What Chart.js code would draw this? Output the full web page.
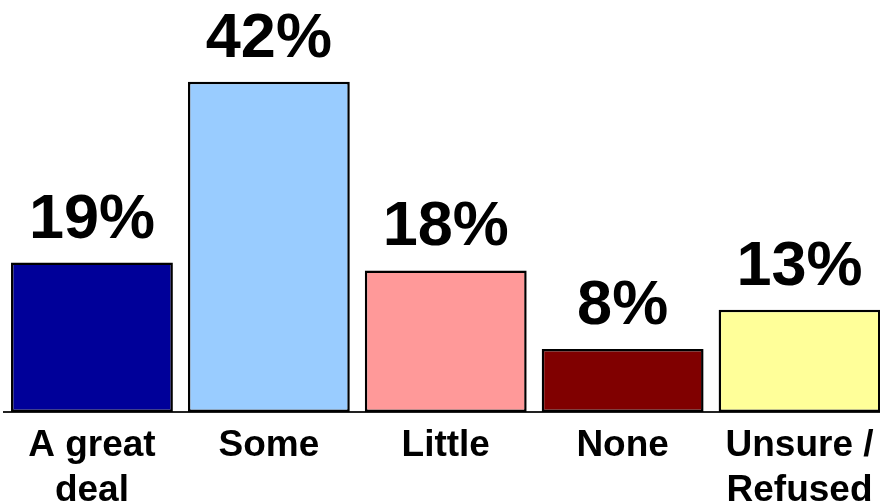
<!DOCTYPE html>
<html>
<head>
<meta charset="utf-8">
<script src="https://cdn.jsdelivr.net/npm/chart.js@4"></script>
<style>
    html, body { margin: 0; padding: 0; background: #fff; overflow: hidden; }
    #wrap { position: relative; width: 888px; height: 504px; }
</style>
</head>
<body>
<div id="wrap"><canvas id="chart"></canvas></div>
<script>
// chart data
const categories = [['A great', 'deal'], 'Some', 'Little', 'None', ['Unsure /', 'Refused']];
const percents = [19, 42, 18, 8, 13];
const barColors = ['#000099', '#99CCFF', '#FF9999', '#800000', '#FFFF99'];

const fontFamily = '"Liberation Sans", Arial, sans-serif';

// draws the "NN%" text above every bar
const valueLabels = {
    id: 'valueLabels',
    afterDatasetsDraw(chart) {
        const ctx = chart.ctx;
        const meta = chart.getDatasetMeta(0);
        ctx.save();
        ctx.font = 'bold 63px ' + fontFamily;
        ctx.fillStyle = '#000';
        ctx.textAlign = 'center';
        ctx.textBaseline = 'alphabetic';
        meta.data.forEach((bar, i) => {
            ctx.fillText(percents[i] + '%', bar.x, bar.y - 25);
        });
        ctx.restore();
    }
};

new Chart(document.getElementById('chart').getContext('2d'), {
    type: 'bar',
    data: {
        labels: categories,
        datasets: [{
            data: percents,
            backgroundColor: barColors,
            borderColor: '#000',
            borderWidth: 2.5,
            borderSkipped: false,
            categoryPercentage: 1,
            barPercentage: 0.915
        }]
    },
    options: {
        responsive: true,
        maintainAspectRatio: false,
        animation: false,
        layout: { padding: { left: 3.5, right: 0, top: 0, bottom: 0 } },
        plugins: {
            legend: { display: false },
            tooltip: { enabled: false }
        },
        scales: {
            x: {
                grid: { display: false, drawTicks: false },
                border: { display: true, color: '#222', width: 2 },
                ticks: {
                    color: '#000',
                    padding: 12,
                    maxRotation: 0,
                    autoSkip: false,
                    font: { family: fontFamily, size: 37, weight: 'bold', lineHeight: 1.2 }
                },
                afterFit(scale) { scale.height = 92; }
            },
            y: {
                display: false,
                min: 0,
                max: 52.4
            }
        }
    },
    plugins: [valueLabels]
});
</script>
</body>
</html>
